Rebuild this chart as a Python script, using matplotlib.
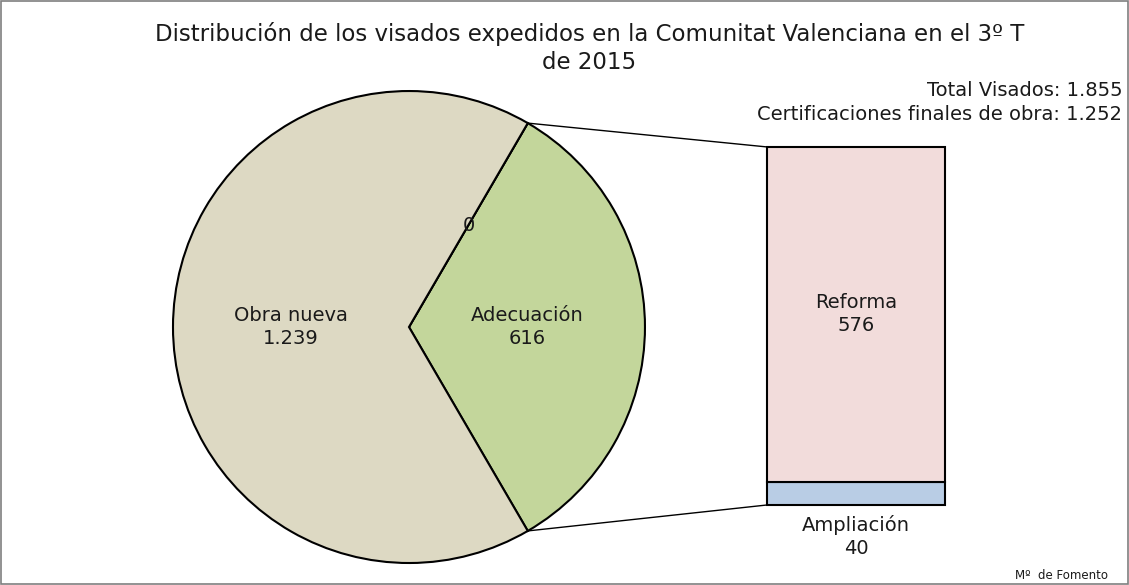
import matplotlib.pyplot as plt
import numpy as np
from matplotlib.patches import ConnectionPatch, Rectangle

plt.rcParams['font.family'] = ['DejaVu Sans']

# pie data (the zero slice is the empty "other" category shown as "0")
pie_labels = ['Adecuación', '', 'Obra nueva']
pie_values = [616, 0, 1239]
pie_colors = ['#C3D69B', '#C3D69B', '#DDD9C3']

bar_labels = ['Ampliación', 'Reforma']
bar_values = [40, 576]
bar_colors = ['#B9CDE5', '#F2DCDB']

total_visados = 1855
certificaciones = 1252

txt_color = '#1a1a1a'


def fmt(v):
    return f"{v:,}".replace(",", ".")


fig = plt.figure(figsize=(11.29, 5.85), dpi=100)
fig.patches.append(Rectangle((0.001, 0.002), 0.998, 0.996, transform=fig.transFigure,
                             fill=False, edgecolor='#7f7f7f', lw=1.2))

# pie
ax1 = fig.add_axes([0.1532, 0.0376, 0.4181, 0.8068])
start = -pie_values[0] / sum(pie_values) * 360 / 2
wedges, _ = ax1.pie(pie_values, colors=pie_colors, startangle=start, counterclock=True,
                    radius=1, wedgeprops=dict(edgecolor='black', linewidth=1.5))
ax1.set_xlim(-1, 1)
ax1.set_ylim(-1, 1)
ax1.set_aspect('equal')
ax1.axis('off')
for w, lab, v in zip(wedges, pie_labels, pie_values):
    w.set_clip_on(False)
    ang = np.deg2rad((w.theta1 + w.theta2) / 2)
    txt = f"{lab}\n{fmt(v)}" if lab else fmt(v)
    ax1.text(0.5 * np.cos(ang), 0.5 * np.sin(ang), txt, ha='center', va='center',
             fontsize=14, color=txt_color, linespacing=1.25)

# bar
ax2 = fig.add_axes([0.6794, 0.1368, 0.1577, 0.612])
bottom = 0
for lab, v, c in zip(bar_labels, bar_values, bar_colors):
    ax2.bar(0, v, width=1, bottom=bottom, color=c, edgecolor='black', linewidth=1.5,
            clip_on=False)
    bottom += v
ax2.set_xlim(-0.5, 0.5)
ax2.set_ylim(0, sum(bar_values))
ax2.axis('off')
ax2.text(0, bar_values[0] + bar_values[1] / 2, f"{bar_labels[1]}\n{fmt(bar_values[1])}",
         ha='center', va='center', fontsize=14, color=txt_color, linespacing=1.25)
ax2.text(0, -18, f"{bar_labels[0]}\n{fmt(bar_values[0])}",
         ha='center', va='top', fontsize=14, color=txt_color, linespacing=1.25)

# connectors
t1 = np.deg2rad(wedges[0].theta2)
t0 = np.deg2rad(wedges[0].theta1)
for ang, yb in [(t1, sum(bar_values)), (t0, 0)]:
    con = ConnectionPatch(xyA=(np.cos(ang), np.sin(ang)), coordsA=ax1.transData,
                          xyB=(-0.5, yb), coordsB=ax2.transData, color='black', lw=1)
    fig.add_artist(con)

fig.text(0.522, 0.918, 'Distribución de los visados expedidos en la Comunitat Valenciana en el 3º T\nde 2015',
         ha='center', va='center', fontsize=16.5, color=txt_color, linespacing=1.3)
fig.text(0.994, 0.846, f'Total Visados: {fmt(total_visados)}', ha='right', va='center',
         fontsize=14, color=txt_color)
fig.text(0.994, 0.805, f'Certificaciones finales de obra: {fmt(certificaciones)}', ha='right',
         va='center', fontsize=14, color=txt_color)
fig.text(0.981, 0.017, 'Mº  de Fomento', ha='right', va='center', fontsize=8.5, color=txt_color)

fig.savefig('out.png', dpi=100)
